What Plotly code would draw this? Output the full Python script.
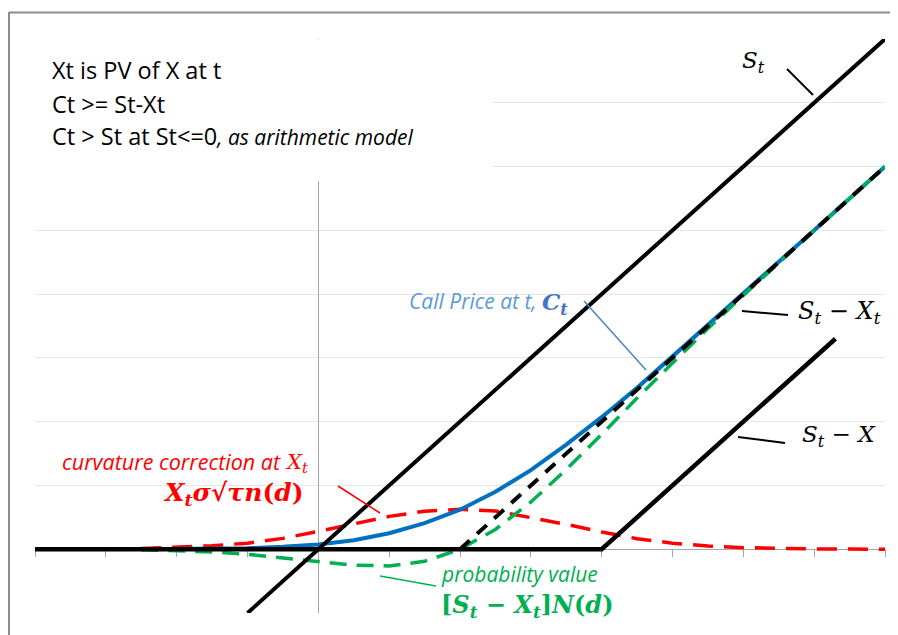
import plotly.graph_objects as go

# ---- data ----
S_grid = [-2.5, -2.0, -1.5, -1.0, -0.5, 0.0, 0.5, 1.0, 1.5, 2.0, 2.5, 3.0,
          3.5, 4.0, 4.5, 5.0, 5.5, 6.0, 6.5, 7.0, 7.5, 8.0]
call_price = [0.001, 0.003, 0.007, 0.017, 0.037, 0.075, 0.14, 0.25, 0.41, 0.62, 0.90, 1.24,
              1.64, 2.07, 2.53, 3.02, 3.51, 4.00, 4.50, 5.00, 5.50, 6.00]
curvature = [0.012, 0.03, 0.055, 0.095, 0.17, 0.28, 0.40, 0.515, 0.595, 0.625, 0.60, 0.50,
             0.39, 0.27, 0.165, 0.095, 0.05, 0.025, 0.012, 0.005, 0.002, 0.001]
prob_value = [-0.008, -0.02, -0.042, -0.079, -0.133, -0.197, -0.25, -0.262, -0.19, 0.0, 0.31, 0.74,
              1.25, 1.80, 2.37, 2.92, 3.46, 3.98, 4.49, 5.00, 5.50, 6.00]

St_S = [-1.0, 8.0]
St_V = [-1.0, 8.0]
StX_S = [-4.0, 4.0, 7.3]
StX_V = [0.0, 0.0, 3.3]
StXt_S = [2.0, 8.0]
StXt_V = [0.0, 6.0]

X_RANGE = [-4, 8]
Y_RANGE = [-1, 8]

# ---- layout: page has an 8px body margin; targets are in screenshot pixels ----
OFF = 8
W, H = 898 - OFF, 635 - OFF
L, R, T, B = 35, 885, 39, 613   # plot area in screenshot pixels

def dx(px):
    return X_RANGE[0] + (px - L) * (X_RANGE[1] - X_RANGE[0]) / (R - L)
def dy(py):
    return Y_RANGE[1] - (py - T) * (Y_RANGE[1] - Y_RANGE[0]) / (B - T)
def paper_x(px):
    return (px - L) / (R - L)
def paper_y(py):
    return (B - py) / (B - T)

fig = go.Figure()
fig.add_trace(go.Scatter(x=S_grid, y=curvature, mode="lines",
                         line=dict(color="#FF0000", width=3.5, dash="20px,11px")))
fig.add_trace(go.Scatter(x=S_grid, y=call_price, mode="lines",
                         line=dict(color="#0070C0", width=4)))
fig.add_trace(go.Scatter(x=S_grid, y=prob_value, mode="lines",
                         line=dict(color="#00B050", width=3.5, dash="17px,10px")))
fig.add_trace(go.Scatter(x=StXt_S, y=StXt_V, mode="lines",
                         line=dict(color="#000000", width=4, dash="13px,10px")))
fig.add_trace(go.Scatter(x=StX_S, y=StX_V, mode="lines",
                         line=dict(color="#000000", width=4.5)))
fig.add_trace(go.Scatter(x=St_S, y=St_V, mode="lines",
                         line=dict(color="#000000", width=4)))

shapes = []
# white text box covering the grid and the top of the vertical axis
shapes.append(dict(type="rect", xref="x", yref="y", x0=dx(30), x1=dx(493), y0=dy(181), y1=dy(39.6),
                   fillcolor="white", line=dict(width=0), layer="above"))
# outer frame (left and top edges)
shapes.append(dict(type="line", xref="paper", yref="paper", x0=paper_x(9), x1=paper_x(9),
                   y0=paper_y(640), y1=paper_y(12), line=dict(color="#8c8c8c", width=2)))
shapes.append(dict(type="line", xref="paper", yref="paper", x0=paper_x(9), x1=paper_x(900),
                   y0=paper_y(12.5), y1=paper_y(12.5), line=dict(color="#8c8c8c", width=2)))

def pointer(x0, y0, x1, y1, color, width):
    shapes.append(dict(type="line", xref="x", yref="y", x0=dx(x0), y0=dy(y0), x1=dx(x1), y1=dy(y1),
                       line=dict(color=color, width=width), layer="above"))
pointer(787, 69, 813, 95, "#000000", 2)
pointer(584, 301, 646, 370, "#4F81BD", 1.5)
pointer(742, 311, 788, 315, "#000000", 2)
pointer(738, 437, 785, 443, "#000000", 2)
pointer(338, 486, 380, 513, "#FF0000", 1.5)
pointer(380, 576, 436, 586, "#00B050", 1.5)

SANS = "Open Sans"
SERIF = "DejaVu Serif"
ann = []
def text(px, py, s, size, color="#000000", family=SANS, anchor="left"):
    ann.append(dict(x=dx(px), y=dy(py), xref="x", yref="y", text=s, showarrow=False,
                    xanchor=anchor, yanchor="middle", font=dict(family=family, size=size, color=color)))

text(50, 70, "Xt is PV of X at t", 23.5)
text(50, 104, "Ct &gt;= St-Xt", 23.5)
text(50, 136, "Ct &gt; St at St&lt;=0<i><span style='font-size:21px'>, as arithmetic model</span></i>", 23.5)

text(740, 62, "<i>S</i><sub><i>t</i></sub>", 23, family=SERIF)
text(796, 312, "<i>S</i><sub><i>t</i></sub> − <i>X</i><sub><i>t</i></sub>", 24, family=SERIF)
text(800, 436, "<i>S</i><sub><i>t</i></sub> − <i>X</i>", 23, family=SERIF)

text(539, 301, "<i>Call Price at t,</i>", 21, color="#5B9BD5", anchor="right")
text(540, 303, "<b><i>C</i></b><sub><b><i>t</i></b></sub>", 23, color="#4472C4", family=SERIF)

text(283, 461, "<i>curvature correction at</i>", 21.5, color="#FF0000", anchor="right")
text(283, 463, "<i>X</i><sub><i>t</i></sub>", 21, color="#FF0000", family=SERIF)
text(306, 494, "<b><i>X</i></b><sub><b><i>t</i></b></sub><b><i>σ√τn</i>(<i>d</i>)</b>", 25,
     color="#FF0000", family=SERIF, anchor="right")

text(439, 574, "<i>probability value</i>", 21, color="#00B050")
text(439, 606, "<b>[<i>S</i><sub><i>t</i></sub> − <i>X</i><sub><i>t</i></sub>]<i>N</i>(<i>d</i>)</b>", 24,
     color="#00B050", family=SERIF)

fig.update_layout(
    width=W, height=H,
    margin=dict(l=L - OFF, r=W - (R - OFF), t=T - OFF, b=H - (B - OFF)),
    paper_bgcolor="white", plot_bgcolor="white",
    showlegend=False,
    shapes=shapes, annotations=ann,
    xaxis=dict(range=X_RANGE, tick0=-4, dtick=1, ticks="outside", ticklen=7, tickcolor="#a6a6a6",
               showticklabels=False, showgrid=False, zeroline=False, showline=True,
               linecolor="#a6a6a6", linewidth=1, anchor="free",
               position=(0 - Y_RANGE[0]) / (Y_RANGE[1] - Y_RANGE[0]),
               layer="below traces", fixedrange=True),
    yaxis=dict(range=Y_RANGE, dtick=1, showticklabels=False, ticks="", showgrid=True,
               gridcolor="#e6e6e6", gridwidth=1, zeroline=False, showline=True,
               linecolor="#a6a6a6", linewidth=1, anchor="free",
               position=(0 - X_RANGE[0]) / (X_RANGE[1] - X_RANGE[0]),
               layer="below traces", fixedrange=True),
)

fig.write_html("out.html")
